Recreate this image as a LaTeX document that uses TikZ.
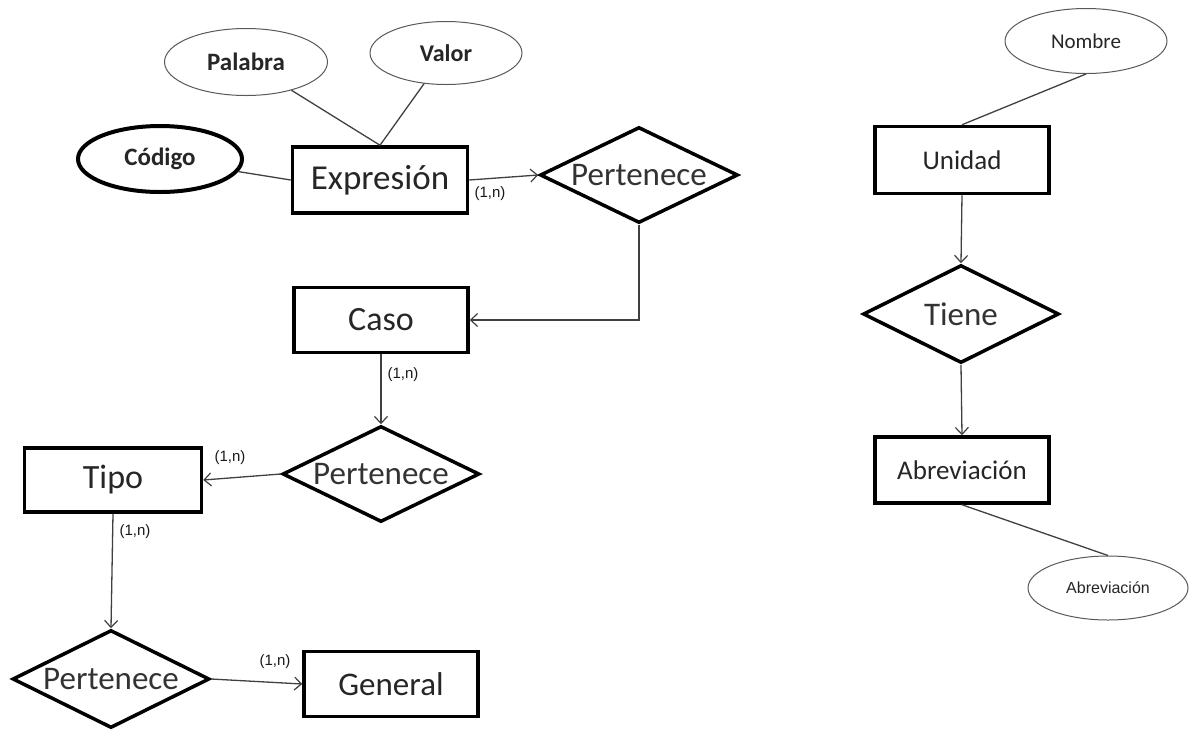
\documentclass[tikz,border=0pt]{standalone}
\usepackage{fontspec}
\setmainfont{Carlito}
\newfontfamily\arialfont{Liberation Sans}
\usetikzlibrary{shapes.geometric,arrows.meta}

\tikzset{
  entity/.style={draw=black, line width=3.5pt, fill=white, rectangle,
    minimum width=174pt, minimum height=65pt, inner sep=0pt,
    text=black!85},
  relation/.style={draw=black, line width=3.5pt, fill=white, diamond, aspect=2,
    minimum width=197pt, minimum height=96pt, inner sep=0pt,
    text=black!80, font=\fontsize{33}{36}\selectfont},
  attrib/.style={draw=black!65, line width=1pt, fill=white, ellipse,
    inner sep=0pt, text=black!85},
  keyattrib/.style={attrib, draw=black, line width=4pt},
  link/.style={draw=black!75, line width=1.3pt},
  arr/.style={link, -{Straight Barb[length=7pt,width=13pt,line width=1.2pt]}},
  card/.style={font=\arialfont\fontsize{15}{16}\selectfont, text=black!90, inner sep=0pt},
}

\begin{document}
\begin{tikzpicture}[x=1pt, y=-1pt]
  \useasboundingbox (0,0) rectangle (1192,740);

  % Attributes of Expresión
  \node[attrib, minimum width=163pt, minimum height=67pt,
        font=\bfseries\fontsize{25}{27}\selectfont] (pal) at (246,62) {Palabra};
  \node[attrib, minimum width=152pt, minimum height=63pt,
        font=\bfseries\fontsize{24}{26}\selectfont] (val) at (446,53) {Valor};
  \node[keyattrib, minimum width=164pt, minimum height=66pt,
        font=\bfseries\fontsize{25}{27}\selectfont] (cod) at (160,159) {Código};

  % Left chain of entities and relationships
  \node[entity, minimum width=175pt, minimum height=66pt,
        font=\fontsize{35}{38}\selectfont] (expr) at (380,180) {Expresión};
  \node[relation, minimum width=198pt] (per1) at (639,175) {Pertenece};
  \node[entity, font=\fontsize{34}{37}\selectfont] (caso) at (381,320) {Caso};
  \node[relation] (per2) at (381,474) {Pertenece};
  \node[entity, minimum width=177pt, minimum height=64pt,
        font=\fontsize{34}{37}\selectfont] (tipo) at (113,480) {Tipo};
  \node[relation, minimum height=98pt] (per3) at (111,679) {Pertenece};
  \node[entity, font=\fontsize{33}{36}\selectfont] (gen) at (391,684) {General};

  % Right chain
  \node[attrib, minimum width=162pt, minimum height=65pt,
        font=\fontsize{21}{23}\selectfont] (nom) at (1086,41) {Nombre};
  \node[entity, minimum height=67pt, font=\fontsize{27}{29}\selectfont] (uni) at (962,160) {Unidad};
  \node[relation, minimum width=196pt, minimum height=98pt] (tie) at (961,314) {Tiene};
  \node[entity, minimum height=66pt, font=\fontsize{27}{29}\selectfont] (abr) at (962,470) {Abreviación};
  \node[attrib, minimum width=160pt, minimum height=64pt,
        font=\arialfont\fontsize{16}{18}\selectfont] (abre) at (1108,588) {Abreviación};

  % Attribute links
  \draw[link] (pal) -- (expr.north);
  \draw[link] (val) -- (expr.north);
  \draw[link] (cod) -- (expr.west);
  \draw[link] (nom.south) -- (uni.north);
  \draw[link] (abr.south) -- (abre.north);

  % Relationship connectors
  \draw[arr] (expr.east) -- (per1.west);
  \draw[arr] (per1.south) |- (caso.east);
  \draw[arr] (caso.south) -- (per2.north);
  \draw[arr] (per2.west) -- (tipo.east);
  \draw[arr] (tipo.south) -- (per3.north);
  \draw[arr] (per3.east) -- (gen.west);
  \draw[arr] (uni.south) -- (tie.north);
  \draw[arr] (tie.south) -- (abr.north);

  % Cardinalities
  \node[card] (c1) at (490,194) {(1,n)};
  \node[card] (c2) at (403,375) {(1,n)};
  \node[card] (c3) at (230,458) {(1,n)};
  \node[card] (c4) at (135,532) {(1,n)};
  \node[card] (c5) at (275,662) {(1,n)};
\end{tikzpicture}
\end{document}
